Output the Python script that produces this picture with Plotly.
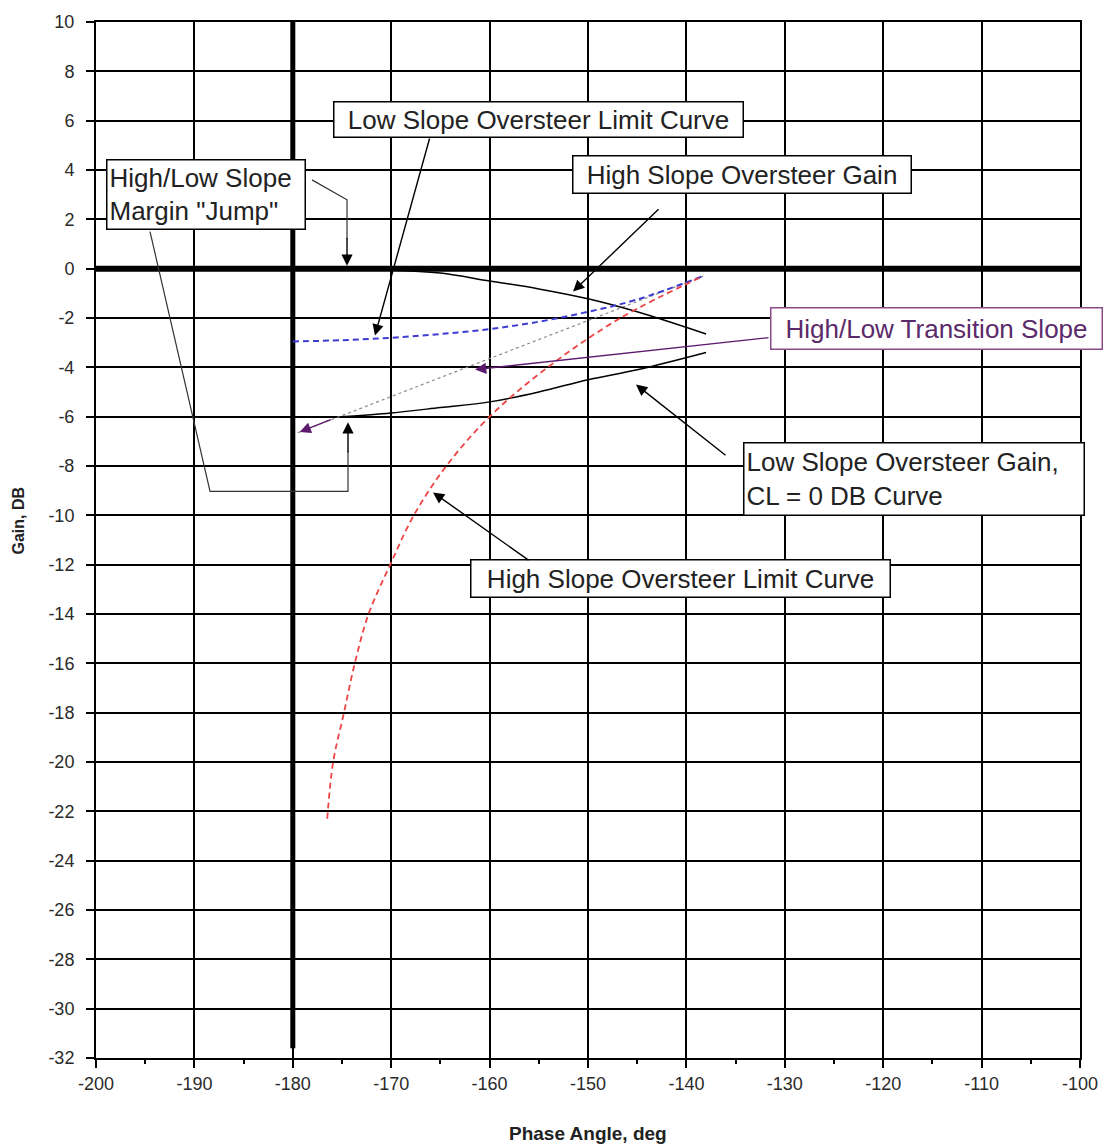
import plotly.graph_objects as go

# ---- data -------------------------------------------------------------
# Reference axes (0 dB line and -180 deg line)
zero_phase = [-200, -100]
zero_gain = [0, 0]
crit_phase = [-180, -180]
crit_gain = [10, -31.6]

# High slope oversteer gain
hs_gain_phase = [-180, -170, -165, -160, -155, -150, -145, -138]
hs_gain_db = [0, -0.05, -0.18, -0.5, -0.82, -1.22, -1.75, -2.65]

# Low slope oversteer limit curve
ls_limit_phase = [-180, -175, -170, -165, -160, -155, -150, -145, -138.3]
ls_limit_db = [-2.95, -2.9, -2.8, -2.65, -2.45, -2.15, -1.75, -1.25, -0.3]

# High slope oversteer limit curve
hs_limit_phase = [-176.5, -175.9, -174.8, -173.7, -172.3, -170.1, -167.7,
                  -164.4, -160, -154.1, -146.7, -138.3]
hs_limit_db = [-22.3, -20, -18, -16, -14, -12, -10, -8, -6, -4, -2, -0.3]

# High/low transition slope
trans_phase = [-179.5, -138.3]
trans_db = [-6.65, -0.3]

# Low slope oversteer gain, CL = 0 dB curve
ls_gain_phase = [-175, -170, -165, -160, -155, -150, -145, -138]
ls_gain_db = [-6.0, -5.85, -5.63, -5.4, -5.0, -4.5, -4.1, -3.4]

x_ticks = list(range(-200, -99, 10))
y_ticks = list(range(-32, 11, 2))
x_labels = [str(v) for v in x_ticks]
y_labels = [str(v) for v in y_ticks]

# ---- figure -----------------------------------------------------------
FONT = "Arial, Liberation Sans, sans-serif"
fig = go.Figure()

fig.add_trace(go.Scatter(x=zero_phase, y=zero_gain, mode="lines",
                         line=dict(color="black", width=6)))
fig.add_trace(go.Scatter(x=crit_phase, y=crit_gain, mode="lines",
                         line=dict(color="black", width=5)))
fig.add_trace(go.Scatter(x=trans_phase, y=trans_db, mode="lines",
                         line=dict(color="#8a8a8a", width=1.2, dash="dot")))
fig.add_trace(go.Scatter(x=hs_gain_phase, y=hs_gain_db, mode="lines",
                         line=dict(color="black", width=1.5, shape="spline")))
fig.add_trace(go.Scatter(x=ls_gain_phase, y=ls_gain_db, mode="lines",
                         line=dict(color="black", width=1.5, shape="spline")))
fig.add_trace(go.Scatter(x=ls_limit_phase, y=ls_limit_db, mode="lines",
                         line=dict(color="#3c3cd0", width=2, dash="6px,4px",
                                   shape="spline")))
fig.add_trace(go.Scatter(x=hs_limit_phase, y=hs_limit_db, mode="lines",
                         line=dict(color="#ee4444", width=1.8, dash="6px,4px",
                                   shape="spline")))

# ---- callouts ---------------------------------------------------------
TXT = dict(family=FONT, size=26, color="#222222")


def box(text, x, y, w, h, align="center", color="#222222", border="black"):
    fig.add_annotation(x=x, y=y, xref="x", yref="y", text=text,
                       showarrow=False, width=w, height=h, align=align,
                       valign="middle", bgcolor="white", bordercolor=border,
                       borderwidth=1.5, borderpad=2,
                       font=dict(TXT, color=color))


def arrow(tail, head, color="black"):
    fig.add_annotation(x=head[0], y=head[1], ax=tail[0], ay=tail[1],
                       xref="x", yref="y", axref="x", ayref="y", text="",
                       showarrow=True, arrowhead=2, arrowsize=1.6,
                       arrowwidth=1.4, arrowcolor=color)


box("Low Slope Oversteer Limit Curve", -155.08, 6.03, 404, 30)
box("High/Low Slope<br>Margin \"Jump\"", -188.87, 3.0, 193, 64, align="left")
box("High Slope Oversteer Gain", -134.40, 3.81, 333, 32)
box("High/Low Transition Slope", -114.63, -2.43, 326, 36,
    color="#5a2a6a", border="#8a4a8a")
box("Low Slope Oversteer Gain,<br>CL = 0 DB Curve", -116.92, -8.52, 335, 67,
    align="left")
box("High Slope Oversteer Limit Curve", -140.65, -12.55, 414, 32)

arrow((-166.06, 5.34), (-171.65, -2.71))
arrow((-142.68, 2.47), (-151.52, -0.93))
arrow((-131.50, -2.79), (-161.48, -4.09), color="#5c1a6e")
arrow((-176.0, -6.1), (-179.3, -6.62), color="#5c1a6e")
arrow((-135.87, -7.61), (-145.12, -4.70))
arrow((-155.89, -11.86), (-165.75, -9.07))

# elbow connectors from the "Jump" callout
CONN = dict(color="#333333", width=1.2)
fig.add_shape(type="path", xref="x", yref="y", line=CONN,
              path="M -178.05,3.6 L -174.49,2.79 L -174.49,1.2")
fig.add_shape(type="path", xref="x", yref="y", line=CONN,
              path="M -194.51,1.5 L -188.41,-9.03 L -174.39,-9.03 L -174.39,-7.4")
arrow((-174.49, 1.3), (-174.49, 0.12))
arrow((-174.39, -7.5), (-174.39, -6.23))

# axis titles
fig.add_annotation(x=-150, y=-32, xref="x", yref="y", yshift=-75,
                   text="<b>Phase Angle, deg</b>", showarrow=False,
                   font=dict(family=FONT, size=19, color="#222222"))
fig.add_annotation(x=-0.079, xref="paper", y=-10.2, yref="y", xanchor="center",
                   text="<b>Gain, DB</b>", showarrow=False, textangle=-90,
                   font=dict(family=FONT, size=16, color="#222222"))

AX = dict(showline=True, mirror=True, linecolor="black", linewidth=2,
          showgrid=True, gridcolor="black", gridwidth=2, zeroline=False,
          ticks="outside", ticklen=8, tickcolor="black", tickwidth=1.5,
          tickfont=dict(family=FONT, size=18, color="#2a2a2a"))

fig.update_xaxes(range=[-200, -100], tickvals=x_ticks, ticktext=x_labels,
                 minor=dict(dtick=5, ticks="outside", ticklen=4,
                            tickcolor="black", showgrid=False),
                 **AX)
fig.update_yaxes(range=[-32, 10], tickvals=y_ticks, ticktext=y_labels,
                 ticklabelstandoff=8, **AX)

fig.update_layout(width=1112, height=1144, showlegend=False,
                  margin=dict(l=96, r=32, t=22, b=86),
                  paper_bgcolor="white", plot_bgcolor="white")

fig.write_html("out.html")
